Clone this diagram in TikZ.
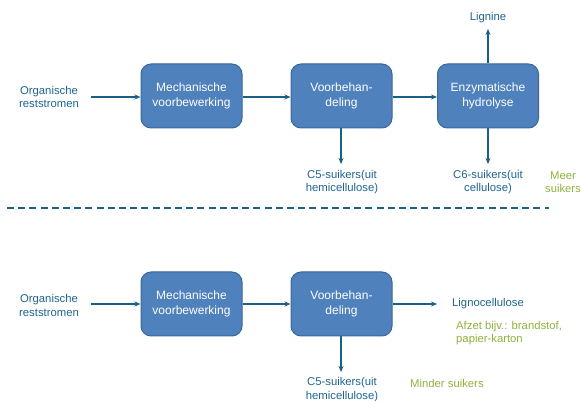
\documentclass[tikz,border=0pt]{standalone}
\usepackage{fontspec}
\setmainfont{Liberation Sans}
\usetikzlibrary{arrows.meta}
\definecolor{boxfill}{HTML}{4F81BD}
\definecolor{boxline}{HTML}{3B679A}
\definecolor{tblue}{HTML}{1D6590}
\definecolor{arr}{HTML}{1A5F85}
\definecolor{tgreen}{HTML}{8FB23E}
\tikzset{
  procbox/.style={draw=boxline, line width=1pt, fill=boxfill, rounded corners=10pt,
    minimum width=101pt, minimum height=64pt, inner sep=0pt, align=center,
    text=white, font=\fontsize{12}{15}\selectfont},
  lbl/.style={text=tblue, align=center, inner sep=0pt, font=\fontsize{11.3}{13.3}\selectfont},
  glbl/.style={text=tgreen, align=center, inner sep=0pt, font=\fontsize{11.3}{12.8}\selectfont},
  flow/.style={draw=arr, line width=1.5pt, -{Stealth[length=6pt,width=5pt]}},
  sep/.style={draw=arr, line width=2pt, dash pattern=on 7pt off 4.2pt}
}
\begin{document}
\begin{tikzpicture}[x=1pt,y=-1pt]
\useasboundingbox (0,0) rectangle (582,401);
% top row
\node[lbl] (org1) at (49,97) {Organische\\reststromen};
\node[procbox] (m1) at (191.5,96) {Mechanische\\voorbewerking};
\node[procbox] (v1) at (341.5,96) {Voorbehan-\\deling};
\node[procbox] (e1) at (488,96) {Enzymatische\\hydrolyse};
\node[lbl] (lig) at (488,18) {Lignine};
\node[lbl] (c51) at (342,182) {C5-suikers(uit\\hemicellulose)};
\node[lbl] (c6) at (488,182) {C6-suikers(uit\\cellulose)};
\node[glbl] (meer) at (563,182) {Meer\\suikers};
\coordinate (o1) at (91,97);
\draw[flow] (o1) -- (m1.west |- o1);
\draw[flow] (m1.east |- o1) -- (v1.west |- o1);
\draw[flow] (v1.east |- o1) -- (e1.west |- o1);
\coordinate (ligend) at (488,29);
\draw[flow] (e1.north) -- (ligend);
\coordinate (c51end) at (341,164);
\draw[flow] (v1.south -| c51end) -- (c51end);
\coordinate (c6end) at (488,164);
\draw[flow] (e1.south) -- (c6end);
% separator
\coordinate (s1) at (7,208);
\coordinate (s2) at (549,208);
\draw[sep] (s1) -- (s2);
% bottom row
\node[lbl] (org2) at (49,305.5) {Organische\\reststromen};
\node[procbox] (m2) at (191.5,304) {Mechanische\\voorbewerking};
\node[procbox] (v2) at (341.5,304) {Voorbehan-\\deling};
\node[lbl, anchor=west] (ligno) at (452,304) {Lignocellulose};
\node[glbl, anchor=west, align=left] (afzet) at (456,333) {Afzet bijv.: brandstof,\\papier-karton};
\node[lbl] (c52) at (342,389.5) {C5-suikers(uit\\hemicellulose)};
\node[glbl, anchor=west] (minder) at (410,383) {Minder suikers};
\coordinate (o2) at (91,304);
\draw[flow] (o2) -- (m2.west |- o2);
\draw[flow] (m2.east |- o2) -- (v2.west |- o2);
\coordinate (lend) at (437,304);
\draw[flow] (v2.east |- o2) -- (lend);
\coordinate (c52end) at (341,372);
\draw[flow] (v2.south -| c52end) -- (c52end);
\end{tikzpicture}
\end{document}
